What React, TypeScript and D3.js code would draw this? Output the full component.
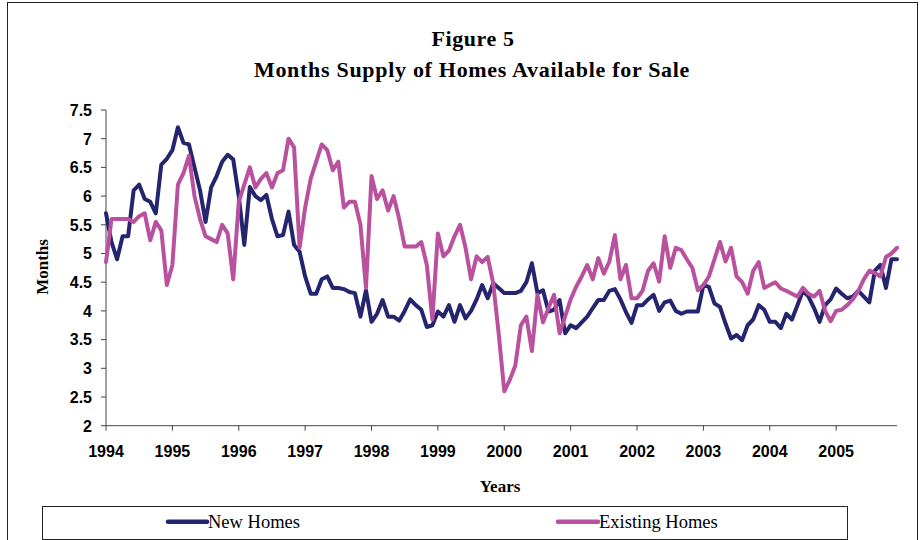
import React from "react";
import * as d3 from "d3";

const yearLabels = ["1994", "1995", "1996", "1997", "1998", "1999", "2000", "2001", "2002", "2003", "2004", "2005"];
const yTicks = [2, 2.5, 3, 3.5, 4, 4.5, 5, 5.5, 6, 6.5, 7, 7.5];

// Monthly values, Jan 1994 - Dec 2005
const newHomes = [
  5.7, 5.2, 4.9, 5.3, 5.3, 6.1, 6.2, 5.95, 5.9, 5.7, 6.55, 6.65,
  6.8, 7.2, 6.93, 6.9, 6.5, 6.1, 5.55, 6.15, 6.35, 6.6, 6.72, 6.64,
  6.0, 5.15, 6.16, 6.0, 5.93, 6.02, 5.6, 5.3, 5.32, 5.73, 5.15, 5.03,
  4.6, 4.3, 4.3, 4.55, 4.6, 4.4, 4.4, 4.38, 4.33, 4.31, 3.9, 4.36,
  3.81, 3.95, 4.19, 3.9, 3.9, 3.83, 4.0, 4.2, 4.1, 4.02, 3.72, 3.75,
  3.99, 3.9, 4.1, 3.81, 4.1, 3.87, 4.0, 4.2, 4.45, 4.22, 4.48, 4.4,
  4.31, 4.31, 4.31, 4.35, 4.5, 4.83, 4.31, 4.36, 3.99, 4.02, 4.19, 3.61,
  3.75, 3.7, 3.8, 3.9, 4.05, 4.19, 4.19, 4.35, 4.38, 4.2, 3.98, 3.79,
  4.1, 4.1, 4.2, 4.28, 4.0, 4.15, 4.18, 4.0, 3.95, 3.99, 3.99, 3.99,
  4.45, 4.42, 4.13, 4.07, 3.78, 3.52, 3.58, 3.49, 3.75, 3.85, 4.1, 4.02,
  3.81, 3.81, 3.7, 3.95, 3.85, 4.1, 4.35, 4.25, 4.05, 3.81, 4.1, 4.2,
  4.39, 4.3, 4.22, 4.25, 4.35, 4.25, 4.15, 4.7, 4.8, 4.4, 4.9, 4.9,
];

const existingHomes = [
  4.85, 5.6, 5.6, 5.6, 5.6, 5.55, 5.65, 5.7, 5.23, 5.55, 5.4, 4.45,
  4.8, 6.2, 6.4, 6.7, 6.0, 5.6, 5.3, 5.25, 5.2, 5.5, 5.35, 4.55,
  5.9, 6.2, 6.5, 6.15, 6.3, 6.4, 6.15, 6.4, 6.45, 7.0, 6.85, 5.1,
  5.8, 6.3, 6.6, 6.9, 6.8, 6.45, 6.6, 5.8, 5.9, 5.9, 5.5, 4.4,
  6.35, 5.95, 6.1, 5.75, 6.0, 5.6, 5.12, 5.12, 5.12, 5.2, 4.8, 3.85,
  5.35, 4.95, 5.05, 5.3, 5.5, 5.1, 4.55, 4.95, 4.85, 4.94, 4.48, 3.6,
  2.6, 2.8, 3.05, 3.75, 3.9, 3.3, 4.28, 3.8, 4.05, 4.28, 3.61, 3.9,
  4.2, 4.42, 4.6, 4.8, 4.55, 4.92, 4.65, 4.86, 5.32, 4.55, 4.8, 4.22,
  4.22, 4.35, 4.7, 4.83, 4.51, 5.3, 4.75, 5.1, 5.06, 4.9, 4.75, 4.36,
  4.45, 4.6, 4.9, 5.2, 4.86, 5.1, 4.6, 4.5, 4.3, 4.7, 4.85, 4.4,
  4.45, 4.5, 4.39, 4.35, 4.3, 4.25, 4.4, 4.3, 4.25, 4.35, 4.0, 3.82,
  4.0, 4.02, 4.1, 4.2, 4.35, 4.55, 4.7, 4.66, 4.6, 4.94, 5.0, 5.1,
];

const seriesNames = ["New Homes", "Existing Homes"];
const seriesColors = ["#25256f", "#b9519f"];

const W = 924;
const H = 540;
const left = 106;
const right = 897;
const top = 110;
const bottom = 425.7;

export default function App() {
  const n = newHomes.length;
  const x = d3.scaleLinear().domain([0, n - 1]).range([left, right]);
  const y = d3.scaleLinear().domain([2, 7.5]).range([bottom, top]);
  const line = d3
    .line<number>()
    .x((_, i) => x(i))
    .y((d) => y(d))
    .curve(d3.curveLinear);

  const serif = "'Liberation Serif', 'Times New Roman', serif";
  const sans = "'Liberation Sans', Arial, sans-serif";

  const series = [newHomes, existingHomes];
  const legendItems = [
    { x1: 168, x2: 207 },
    { x1: 558, x2: 598 },
  ];

  return (
    <div style={{ position: "absolute", left: 0, top: 0 }}>
      <svg width={W} height={H} style={{ display: "block" }}>
        <rect x={0} y={0} width={W} height={H} fill="#fff" />
        <rect x={7.5} y={2.5} width={910} height={600} fill="none" stroke="#222" strokeWidth={1} />
        <text x={473} y={46} textAnchor="middle" fontFamily={serif} fontWeight="bold" fontSize={22} letterSpacing={0.6}>
          Figure 5
        </text>
        <text x={472} y={77} textAnchor="middle" fontFamily={serif} fontWeight="bold" fontSize={22} letterSpacing={0.7}>
          Months Supply of Homes Available for Sale
        </text>

        {/* y axis */}
        <line x1={left} x2={left} y1={top} y2={bottom} stroke="#444" strokeWidth={1} />
        {yTicks.map((t) => (
          <g key={t}>
            <line x1={left - 5} x2={left} y1={y(t)} y2={y(t)} stroke="#444" strokeWidth={1} />
            <text x={92} y={y(t) + 5.8} textAnchor="end" fontFamily={sans} fontWeight="bold" fontSize={16}>
              {t}
            </text>
          </g>
        ))}

        {/* x axis */}
        <line x1={left} x2={right} y1={bottom} y2={bottom} stroke="#444" strokeWidth={1} />
        {yearLabels.map((lab, k) => (
          <g key={lab}>
            <line x1={x(k * 12)} x2={x(k * 12)} y1={bottom} y2={bottom + 5} stroke="#444" strokeWidth={1} />
            <text x={x(k * 12)} y={457} textAnchor="middle" fontFamily={sans} fontWeight="bold" fontSize={16}>
              {lab}
            </text>
          </g>
        ))}

        <text x={500} y={492} textAnchor="middle" fontFamily={serif} fontWeight="bold" fontSize={17}>
          Years
        </text>
        <text
          transform={`translate(48, 267) rotate(-90)`}
          textAnchor="middle"
          fontFamily={serif}
          fontWeight="bold"
          fontSize={17}
        >
          Months
        </text>

        {/* lines */}
        {series.map((s, k) => (
          <path
            key={k}
            d={line(s) || ""}
            fill="none"
            stroke={seriesColors[k]}
            strokeWidth={4}
            strokeLinejoin="round"
            strokeLinecap="round"
          />
        ))}

        {/* legend */}
        <rect x={42.5} y={506.5} width={805} height={33} fill="#fff" stroke="#222" strokeWidth={1} />
        {seriesNames.map((name, k) => (
          <g key={name}>
            <line
              x1={legendItems[k].x1}
              x2={legendItems[k].x2}
              y1={521.7}
              y2={521.7}
              stroke={seriesColors[k]}
              strokeWidth={4.5}
              strokeLinecap="round"
            />
            <text x={legendItems[k].x2 + 1} y={528} fontFamily={serif} fontSize={18.5}>
              {name}
            </text>
          </g>
        ))}
      </svg>
    </div>
  );
}
